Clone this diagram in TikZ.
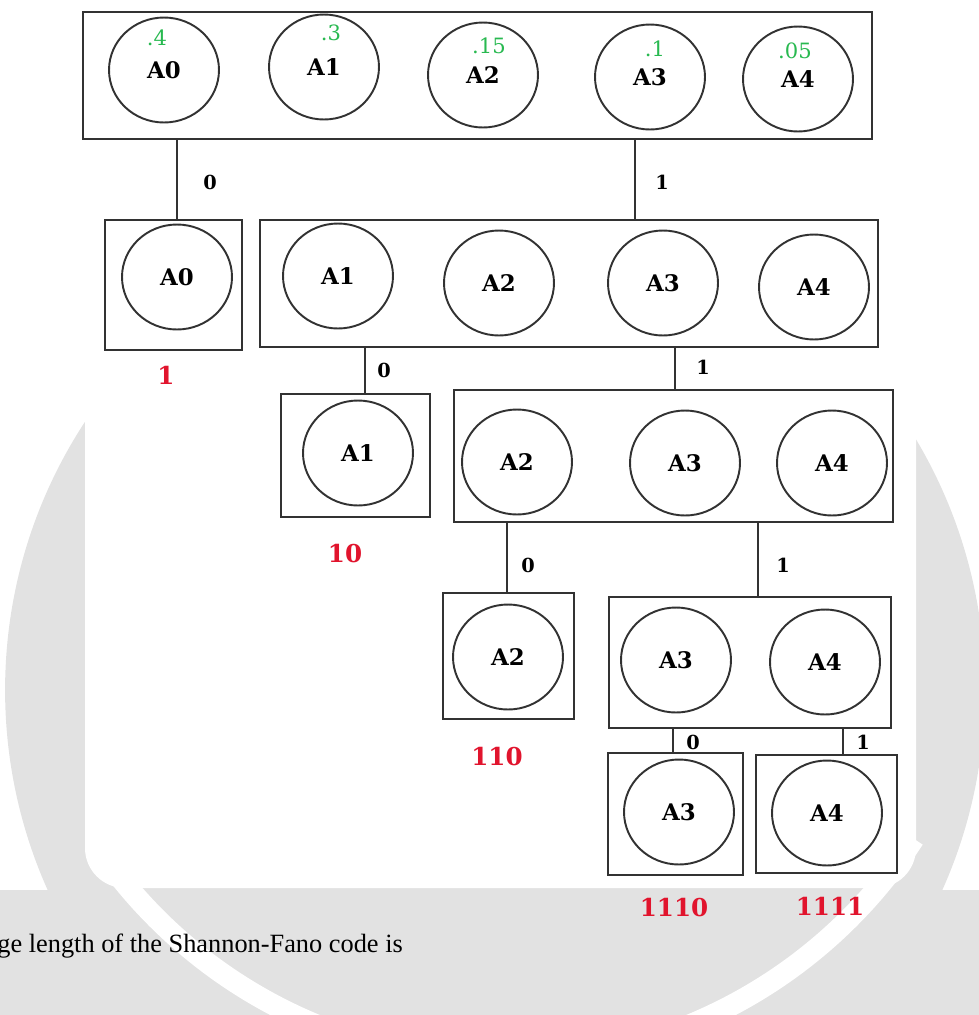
\documentclass[tikz,border=0pt]{standalone}
\usepackage{fontspec}
\setmainfont{Liberation Serif}
\newfontfamily\symfont{DejaVu Serif}
\usetikzlibrary{shapes.geometric, fit, calc}
\definecolor{probgreen}{RGB}{40,185,80}
\definecolor{codered}{RGB}{225,20,45}
\definecolor{wmgray}{RGB}{226,226,226}
\definecolor{inkgray}{RGB}{50,50,50}

\begin{document}
\begin{tikzpicture}[x=0.02cm, y=-0.02cm,
  sym/.style={ellipse, draw=inkgray, line width=1.1pt, minimum width=2.2cm, minimum height=2.1cm, inner sep=0pt, font=\symfont\bfseries\fontsize{13}{15}\selectfont},
  grp/.style={draw=inkgray, line width=1.4pt, inner sep=0pt, fill=white},
  branch/.style={draw=inkgray, line width=1.1pt},
  bit/.style={font=\symfont\bfseries\fontsize{11}{13}\selectfont},
  prob/.style={text=probgreen, font=\symfont\fontsize{12}{14}\selectfont},
  code/.style={text=codered, font=\symfont\bfseries\fontsize{14}{16}\selectfont}]
  \useasboundingbox (0,0) rectangle (979,1015);
  % watermark in the background
  \begin{scope}
    \clip (0,405) rectangle (979,1015);
    \fill[wmgray] (495,690) circle[radius=9.8cm];
    \fill[wmgray] (0,890) rectangle (979,1015);
    \fill[white, rounded corners=0.8cm] (85,370) -- (85,888) -- (916,888) -- (916,370) -- cycle;
    \draw[white, line width=12pt] ([shift={(215:9.8cm)}]503,572) arc[start angle=215, end angle=327, radius=9.8cm];
  \end{scope}
  % groups
  \node[grp, fit={(83,12) (872,139)}] (grpA) {};
  \node[grp, fit={(105,220) (242,350)}] (leafA0) {};
  \node[grp, fit={(260,220) (878,347)}] (grpA1A4) {};
  \node[grp, fit={(281,394) (430,517)}] (leafA1) {};
  \node[grp, fit={(454,390) (893,522)}] (grpA2A4) {};
  \node[grp, fit={(443,593) (574,719)}] (leafA2) {};
  \node[grp, fit={(609,597) (891,728)}] (grpA3A4) {};
  \node[grp, fit={(608,753) (743,875)}] (leafA3) {};
  \node[grp, fit={(756,755) (897,873)}] (leafA4) {};
  % symbols, first row with probabilities
  \node[sym] (t0) at (164,70) {A0};
  \node[sym] (t1) at (324,67) {A1};
  \node[sym] (t2) at (483,75) {A2};
  \node[sym] (t3) at (650,77) {A3};
  \node[sym] (t4) at (798,79) {A4};
  \node[prob] (p0) at ($(t0)+(-7,-32)$) {.4};
  \node[prob] (p1) at ($(t1)+(7,-34)$) {.3};
  \node[prob] (p2) at ($(t2)+(6,-29)$) {.15};
  \node[prob] (p3) at ($(t3)+(5,-28)$) {.1};
  \node[prob] (p4) at ($(t4)+(-3,-28)$) {.05};
  % second row
  \node[sym] (s0) at (177,277) {A0};
  \node[sym] (s1) at (338,276) {A1};
  \node[sym] (s2) at (499,283) {A2};
  \node[sym] (s3) at (663,283) {A3};
  \node[sym] (s4) at (814,287) {A4};
  % third row
  \node[sym] (u1) at (358,453) {A1};
  \node[sym] (u2) at (517,462) {A2};
  \node[sym] (u3) at (685,463) {A3};
  \node[sym] (u4) at (832,463) {A4};
  % fourth row
  \node[sym] (v2) at (508,657) {A2};
  \node[sym] (v3) at (676,660) {A3};
  \node[sym] (v4) at (825,662) {A4};
  % fifth row
  \node[sym] (w3) at (679,812) {A3};
  \node[sym] (w4) at (827,813) {A4};
  % branch positions
  \coordinate (j0) at (177,0);
  \coordinate (j1) at (635,0);
  \coordinate (j10) at (365,0);
  \coordinate (j11) at (675,0);
  \coordinate (j110) at (507,0);
  \coordinate (j111) at (758,0);
  \coordinate (j1110) at (673,0);
  \coordinate (j1111) at (843,0);
  % branches
  \draw[branch] (grpA.south -| j0) -- (leafA0.north -| j0);
  \draw[branch] (grpA.south -| j1) -- (grpA1A4.north -| j1);
  \draw[branch] (grpA1A4.south -| j10) -- (leafA1.north -| j10);
  \draw[branch] (grpA1A4.south -| j11) -- (grpA2A4.north -| j11);
  \draw[branch] (grpA2A4.south -| j110) -- (leafA2.north -| j110);
  \draw[branch] (grpA2A4.south -| j111) -- (grpA3A4.north -| j111);
  \draw[branch] (grpA3A4.south -| j1110) -- (leafA3.north -| j1110);
  \draw[branch] (grpA3A4.south -| j1111) -- (leafA4.north -| j1111);
  % branch bits
  \node[bit] (b0) at (210,182) {0};
  \node[bit] (b1) at (662,182) {1};
  \node[bit] (b10) at (384,370) {0};
  \node[bit] (b11) at (703,367) {1};
  \node[bit] (b110) at (528,565) {0};
  \node[bit] (b111) at (783,565) {1};
  \node[bit] (b1110) at (693,742) {0};
  \node[bit] (b1111) at (863,742) {1};
  % resulting codes
  \node[code] (c0) at (166,375) {1};
  \node[code] (c1) at (345,554) {10};
  \node[code] (c2) at (497,757) {110};
  \node[code] (c3) at (674,908) {1110};
  \node[code] (c4) at (830,906) {1111};
  % running text
  \node[anchor=west, inner sep=0pt, font=\fontsize{15}{18}\selectfont] (note) at (-3,946) {ge length of the Shannon-Fano code is};
\end{tikzpicture}
\end{document}
